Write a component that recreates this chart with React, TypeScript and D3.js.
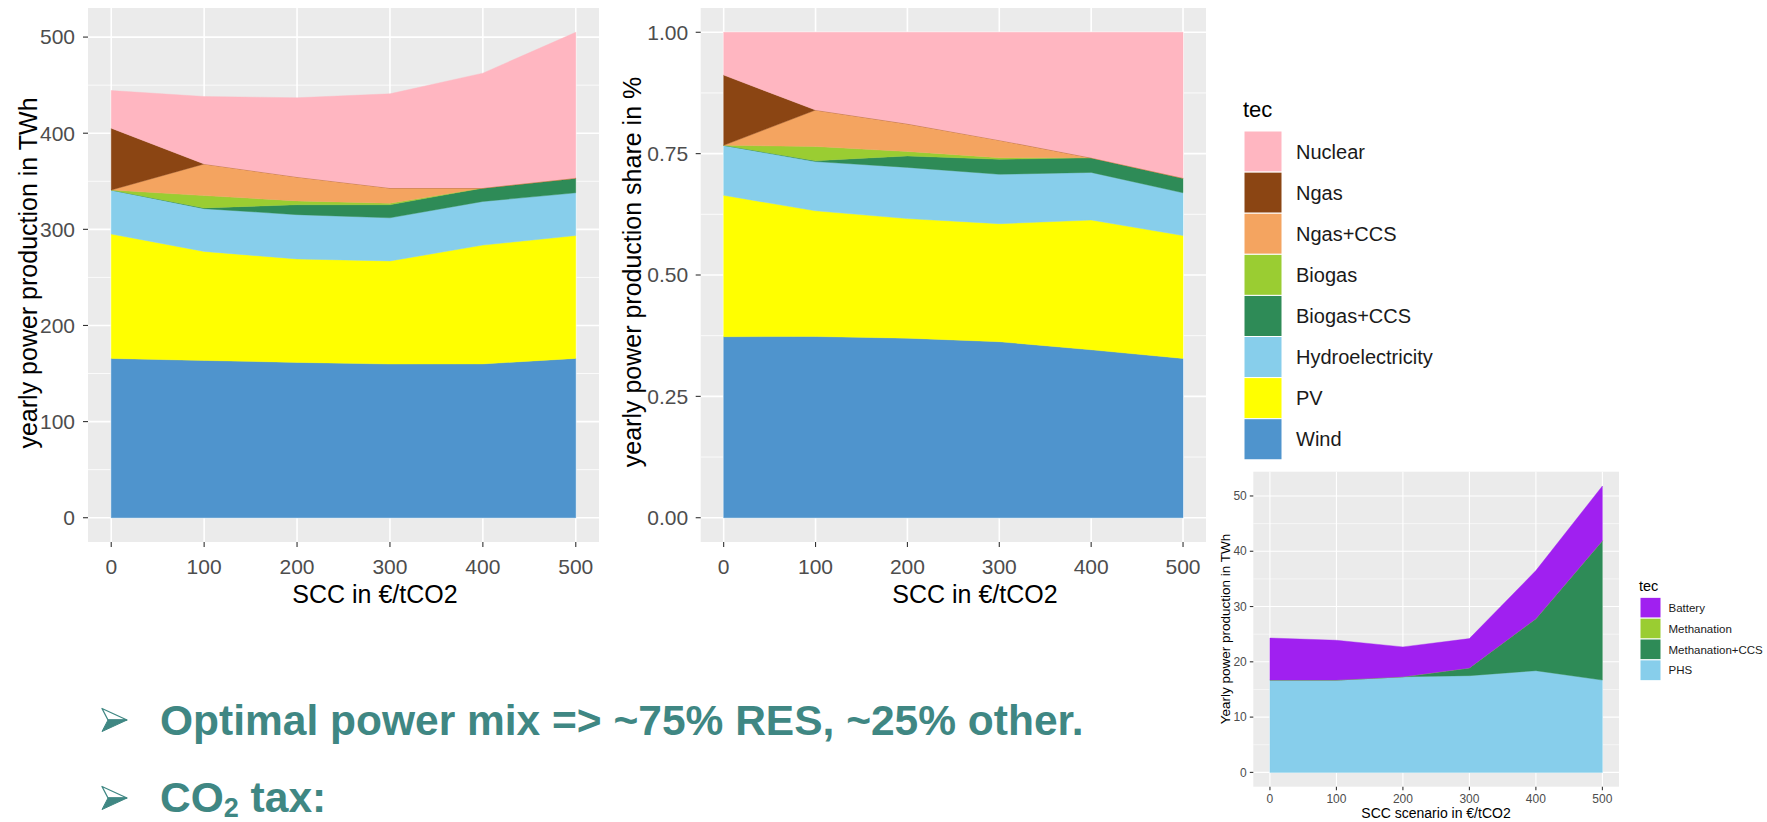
import React from "react";
import * as d3 from "d3";

// ---------------- data ----------------
const SCC = [0, 100, 200, 300, 400, 500];

// yearly power production in TWh (stack bottom -> top)
const WIND = [165.7, 163.6, 161.6, 159.9, 160.0, 165.7];
const PV = [129.4, 113.4, 107.6, 107.2, 123.6, 127.8];
const HYDRO = [45.8, 44.5, 46.1, 44.9, 45.4, 44.5];
const BIOGAS_CCS = [0, 0.8, 10.3, 13.6, 14.0, 15.3];
const BIOGAS = [0, 12.8, 4.0, 1.5, 0, 0];
const NGAS_CCS = [0, 32.9, 24.9, 15.9, 0, 0];
const NGAS = [64.3, 0, 0, 0, 0, 0];
const NUCLEAR = [39.2, 70.2, 82.4, 98.0, 119.5, 151.7];

// storage production in TWh
const PHS = [16.7, 16.7, 17.3, 17.5, 18.4, 16.7];
const METHANATION = [0, 0, 0, 0, 0, 0];
const METHANATION_CCS = [0, 0, 0, 1.4, 9.4, 25.2];
const BATTERY = [7.6, 7.2, 5.4, 5.3, 8.7, 9.9];

// legend order (top -> bottom), same as stack top -> bottom
const TECS = ["Nuclear", "Ngas", "Ngas+CCS", "Biogas", "Biogas+CCS", "Hydroelectricity", "PV", "Wind"];
const TEC_COLORS = ["#FFB6C1", "#8B4513", "#F4A460", "#9ACD32", "#2E8B57", "#87CEEB", "#FFFF00", "#4F94CD"];
const TEC_VALUES = [NUCLEAR, NGAS, NGAS_CCS, BIOGAS, BIOGAS_CCS, HYDRO, PV, WIND];

const STO_TECS = ["Battery", "Methanation", "Methanation+CCS", "PHS"];
const STO_COLORS = ["#A020F0", "#9ACD32", "#2E8B57", "#87CEEB"];
const STO_VALUES = [BATTERY, METHANATION, METHANATION_CCS, PHS];

const X_TICKS = [0, 100, 200, 300, 400, 500];
const Y_TICKS_TWH = [0, 100, 200, 300, 400, 500];
const Y_TICKS_SHARE = [0, 0.25, 0.5, 0.75, 1.0];
const Y_TICKS_STO = [0, 10, 20, 30, 40, 50];

const FONT = "'Liberation Sans', Arial, Helvetica, sans-serif";
const TEAL = "#3F8783";

function buildRows(names: string[], values: number[][]) {
  return SCC.map((s, i) => {
    const r: any = { scc: s };
    names.forEach((n, k) => (r[n] = values[k][i]));
    return r;
  });
}

type PanelCfg = {
  box: { x0: number; x1: number; y0: number; y1: number };
  names: string[];
  colors: string[];
  values: number[][];
  expand: boolean;
  yTicks: number[];
  yFmt: (v: number) => string;
  tickFont: number;
  tickLen: number;
  yLabelGap: number;
  xLabelDy: number;
  majorW: number;
  minorW: number;
};

function Panel(cfg: PanelCfg) {
  const { box, names, colors, values, expand, yTicks, yFmt } = cfg;
  const rows = buildRows(names, values);
  const order = names.slice().reverse(); // bottom -> top
  const stack = d3.stack<any>().keys(order);
  if (expand) stack.offset(d3.stackOffsetExpand);
  const series = stack(rows);
  const top = expand ? 1 : (d3.max(series[series.length - 1], (d) => d[1]) as number);
  const x = d3.scaleLinear().domain([-25, 525]).range([box.x0, box.x1]);
  const y = d3.scaleLinear().domain([-0.05 * top, 1.05 * top]).range([box.y1, box.y0]);
  const area = d3
    .area<any>()
    .x((d) => x(d.data.scc))
    .y0((d) => y(d[0]))
    .y1((d) => y(d[1]));
  const step = yTicks[1] - yTicks[0];
  const minor = yTicks.map((t) => t + step / 2).filter((t) => y(t) > box.y0 && y(t) < box.y1);
  const colorOf = (k: string) => colors[names.indexOf(k)];
  return (
    <g>
      <rect x={box.x0} y={box.y0} width={box.x1 - box.x0} height={box.y1 - box.y0} fill="#EBEBEB" />
      {minor.map((t) => (
        <line key={"mi" + t} x1={box.x0} x2={box.x1} y1={y(t)} y2={y(t)} stroke="#fff" strokeWidth={cfg.minorW} />
      ))}
      {yTicks.map((t) => (
        <line key={"my" + t} x1={box.x0} x2={box.x1} y1={y(t)} y2={y(t)} stroke="#fff" strokeWidth={cfg.majorW} />
      ))}
      {X_TICKS.map((t) => (
        <line key={"mx" + t} x1={x(t)} x2={x(t)} y1={box.y0} y2={box.y1} stroke="#fff" strokeWidth={cfg.majorW} />
      ))}
      {series.map((s) => (
        <path key={s.key} d={area(s) as string} fill={colorOf(s.key)} stroke={colorOf(s.key)} strokeWidth={0.4} />
      ))}
      {yTicks.map((t) => (
        <g key={"yt" + t}>
          <line x1={box.x0 - cfg.tickLen} x2={box.x0} y1={y(t)} y2={y(t)} stroke="#333" strokeWidth={1.1} />
          <text
            x={box.x0 - cfg.yLabelGap}
            y={y(t)}
            dy="0.35em"
            textAnchor="end"
            fontSize={cfg.tickFont}
            fill="#4D4D4D"
            fontFamily={FONT}
          >
            {yFmt(t)}
          </text>
        </g>
      ))}
      {X_TICKS.map((t) => (
        <g key={"xt" + t}>
          <line x1={x(t)} x2={x(t)} y1={box.y1} y2={box.y1 + cfg.tickLen} stroke="#333" strokeWidth={1.1} />
          <text
            x={x(t)}
            y={box.y1 + cfg.xLabelDy}
            dy="0.35em"
            textAnchor="middle"
            fontSize={cfg.tickFont}
            fill="#4D4D4D"
            fontFamily={FONT}
          >
            {t}
          </text>
        </g>
      ))}
    </g>
  );
}

function Legend({
  x,
  titleY,
  top,
  step,
  keyW,
  keyH,
  labelX,
  names,
  colors,
  titleSize,
  labelSize,
}: {
  x: number;
  titleY: number;
  top: number;
  step: number;
  keyW: number;
  keyH: number;
  labelX: number;
  names: string[];
  colors: string[];
  titleSize: number;
  labelSize: number;
}) {
  return (
    <g fontFamily={FONT}>
      <text x={x - 1} y={titleY} fontSize={titleSize} fill="#000">
        tec
      </text>
      {names.map((n, i) => (
        <g key={n}>
          <rect x={x} y={top + i * step} width={keyW} height={keyH} fill={colors[i]} stroke="#fff" strokeWidth={1} />
          <text x={labelX} y={top + i * step + keyH / 2} dy="0.36em" fontSize={labelSize} fill="#1A1A1A">
            {n}
          </text>
        </g>
      ))}
    </g>
  );
}

function Bullet({ x, y }: { x: number; y: number }) {
  // arrow bullet, y = vertical center
  const up = `M${x},${y - 11.5} L${x + 25},${y} L${x + 6},${y} Z`;
  const low = `M${x + 6},${y} L${x + 25},${y} L${x},${y + 11.5} Z`;
  return (
    <g>
      <path d={up} fill="#fff" stroke={TEAL} strokeWidth={1.3} strokeLinejoin="round" />
      <path d={low} fill={TEAL} stroke={TEAL} strokeWidth={1} strokeLinejoin="round" />
    </g>
  );
}

export default function App() {
  const fmtInt = (v: number) => String(v);
  const fmt2 = (v: number) => v.toFixed(2);
  return (
    <svg
      width={1767}
      height={822}
      style={{ position: "absolute", left: 0, top: 0, background: "#fff" }}
      fontFamily={FONT}
    >
      {/* chart 1 */}
      <Panel
        box={{ x0: 88, x1: 599, y0: 8, y1: 542 }}
        names={TECS}
        colors={TEC_COLORS}
        values={TEC_VALUES}
        expand={false}
        yTicks={Y_TICKS_TWH}
        yFmt={fmtInt}
        tickFont={21}
        tickLen={5}
        yLabelGap={13}
        xLabelDy={25}
        majorW={1.6}
        minorW={0.8}
      />
      <text x={28} y={273} transform="rotate(-90 28 273)" textAnchor="middle" dy="0.35em" fontSize={25} fill="#000">
        yearly power production in TWh
      </text>
      <text x={375} y={594} textAnchor="middle" dy="0.35em" fontSize={25} fill="#000">
        SCC in €/tCO2
      </text>

      {/* chart 2 */}
      <Panel
        box={{ x0: 700.7, x1: 1206, y0: 8, y1: 542 }}
        names={TECS}
        colors={TEC_COLORS}
        values={TEC_VALUES}
        expand={true}
        yTicks={Y_TICKS_SHARE}
        yFmt={fmt2}
        tickFont={21}
        tickLen={5}
        yLabelGap={12.5}
        xLabelDy={25}
        majorW={1.6}
        minorW={0.8}
      />
      <text x={632} y={272} transform="rotate(-90 632 272)" textAnchor="middle" dy="0.35em" fontSize={25} fill="#000">
        yearly power production share in %
      </text>
      <text x={975} y={594} textAnchor="middle" dy="0.35em" fontSize={25} fill="#000">
        SCC in €/tCO2
      </text>

      <Legend
        x={1244}
        titleY={117}
        top={131}
        step={41.1}
        keyW={38}
        keyH={41.1}
        labelX={1296}
        names={TECS}
        colors={TEC_COLORS}
        titleSize={22}
        labelSize={20}
      />

      {/* storage chart */}
      <Panel
        box={{ x0: 1253.3, x1: 1619, y0: 471.7, y1: 786.7 }}
        names={STO_TECS}
        colors={STO_COLORS}
        values={STO_VALUES}
        expand={false}
        yTicks={Y_TICKS_STO}
        yFmt={fmtInt}
        tickFont={12}
        tickLen={3.5}
        yLabelGap={6.5}
        xLabelDy={12.5}
        majorW={1.1}
        minorW={0.55}
      />
      <text x={1225} y={629} transform="rotate(-90 1225 629)" textAnchor="middle" dy="0.35em" fontSize={13.5} fill="#000">
        Yearly power production in TWh
      </text>
      <text x={1436} y={813} textAnchor="middle" dy="0.35em" fontSize={14} fill="#000">
        SCC scenario in €/tCO2
      </text>
      <Legend
        x={1640}
        titleY={591}
        top={597.3}
        step={20.85}
        keyW={21}
        keyH={20.85}
        labelX={1668.5}
        names={STO_TECS}
        colors={STO_COLORS}
        titleSize={14.5}
        labelSize={11.5}
      />

      {/* bullet text */}
      <Bullet x={102} y={720} />
      <text x={160} y={735} fontSize={42.5} fontWeight="bold" fill={TEAL}>
        Optimal power mix =&gt; ~75% RES, ~25% other.
      </text>
      <Bullet x={102} y={798} />
      <text x={160} y={812} fontSize={42.5} fontWeight="bold" fill={TEAL}>
        CO
        <tspan fontSize={27} dy={5}>
          2
        </tspan>
        <tspan dy={-5}> tax:</tspan>
      </text>
    </svg>
  );
}
